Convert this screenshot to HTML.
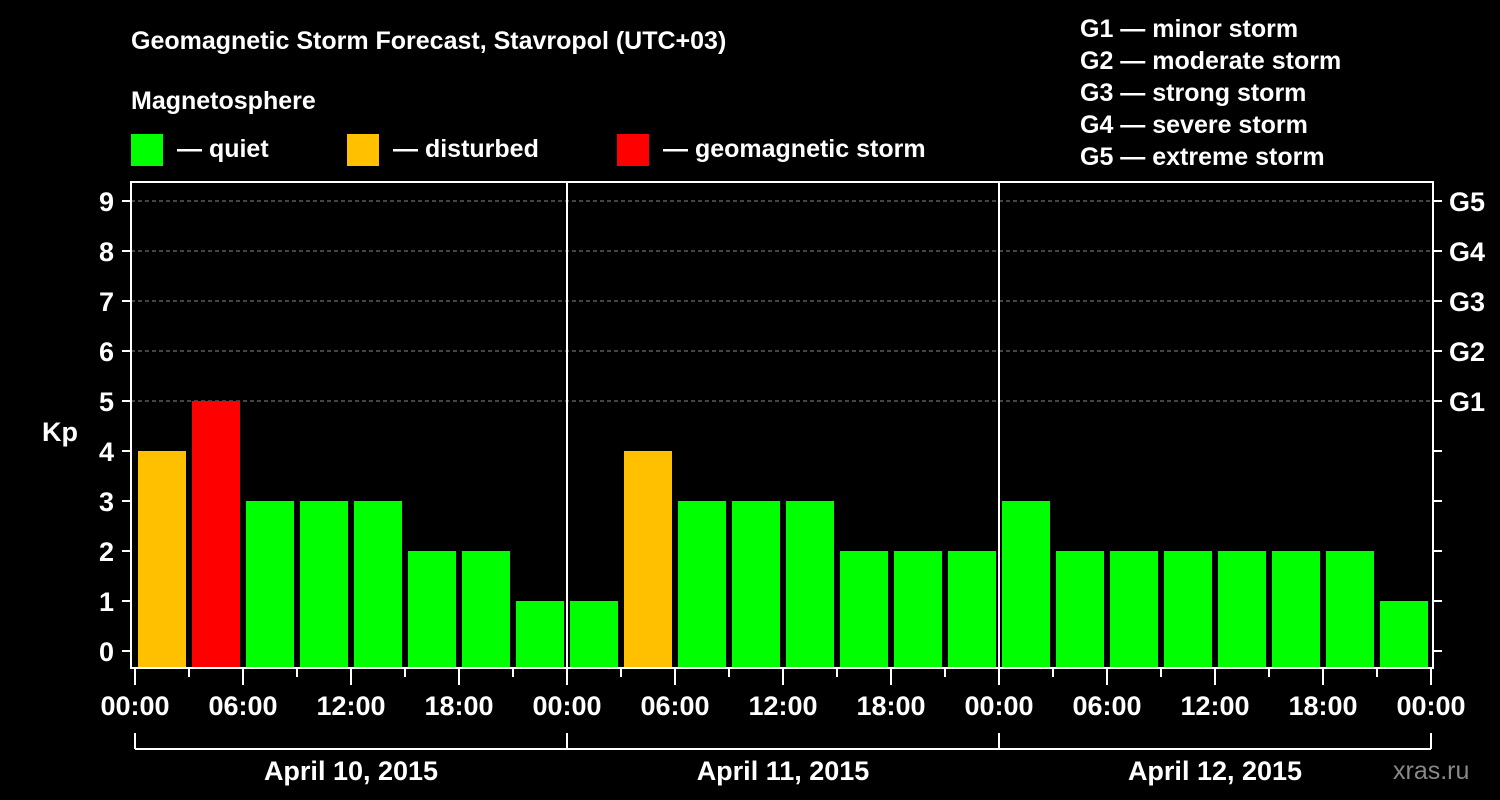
<!DOCTYPE html>
<html><head><meta charset="utf-8"><style>
body{margin:0;background:#000;}
svg{display:block;font-family:"Liberation Sans",Arial,sans-serif;font-weight:bold;}
</style></head><body>
<svg id="chart" width="1500" height="800" viewBox="0 0 1500 800">
<rect width="1500" height="800" fill="#000"/>
<text x="131" y="49" fill="#fff" font-size="25">Geomagnetic Storm Forecast, Stavropol (UTC+03)</text>
<text x="131" y="109" fill="#fff" font-size="25">Magnetosphere</text>
<g><rect x="131" y="134" width="32" height="32" fill="#00ff00"/><text x="177" y="157" fill="#fff" font-size="25">— quiet</text></g>
<g><rect x="347" y="134" width="32" height="32" fill="#ffc000"/><text x="393" y="157" fill="#fff" font-size="25">— disturbed</text></g>
<g><rect x="617" y="134" width="32" height="32" fill="#ff0000"/><text x="663" y="157" fill="#fff" font-size="25">— geomagnetic storm</text></g>
<g fill="#fff" font-size="25">
<text x="1080" y="37">G1 — minor storm</text>
<text x="1080" y="69">G2 — moderate storm</text>
<text x="1080" y="101">G3 — strong storm</text>
<text x="1080" y="133">G4 — severe storm</text>
<text x="1080" y="165">G5 — extreme storm</text>
</g>
<text x="42" y="441" fill="#fff" font-size="27">Kp</text>
<text x="1393" y="779" fill="#888" font-size="25" font-weight="normal">xras.ru</text>
<g id="grid"></g><g id="bars"></g><g id="axes"></g>
</svg>
<script>
const kpValues=[4,5,3,3,3,2,2,1, 1,4,3,3,3,2,2,2, 3,2,2,2,2,2,2,1];
const yTicks=[0,1,2,3,4,5,6,7,8,9];
const gLabels=["G1","G2","G3","G4","G5"];
const gLevels=[5,6,7,8,9];
const hourLabels=["00:00","06:00","12:00","18:00"];
const dayLabels=["April 10, 2015","April 11, 2015","April 12, 2015"];
const NS="http://www.w3.org/2000/svg";
const L=131,R=1433,T=182,B=668,X0=135,PXH=18;
const y=v=>651-v*50;
const x=h=>X0+h*PXH;
function mk(tag,attrs,parent,text){const e=document.createElementNS(NS,tag);for(const k in attrs)e.setAttribute(k,attrs[k]);if(text!==undefined)e.textContent=text;parent.appendChild(e);return e;}
const grid=document.getElementById('grid'),bars=document.getElementById('bars'),axes=document.getElementById('axes');
gLevels.forEach((g,i)=>{
const ln=mk('line',{x1:L,x2:R,y1:y(g),y2:y(g),stroke:'#888','stroke-dasharray':'4,3','stroke-width':1},grid);


const t=mk('text',{x:1449,y:y(g)+10,fill:'#fff','font-size':27},axes,gLabels[i]);


});
function col(v){return v>=5?'#ff0000':(v>=4?'#ffc000':'#00ff00');}
kpValues.forEach((v,i)=>{
const r=mk('rect',{x:x(i*3)+3,y:y(v),width:48,height:B-1-y(v),fill:col(v)},bars);


});
const fr=mk('rect',{x:L,y:T,width:R-L,height:B-T,fill:'none',stroke:'#fff','stroke-width':2},axes);


[1,2].forEach(d=>{const l=mk('line',{x1:x(d*24),x2:x(d*24),y1:T,y2:B,stroke:'#fff','stroke-width':2},axes);

});
yTicks.forEach(v=>{
mk('line',{x1:122,x2:L,y1:y(v),y2:y(v),stroke:'#fff','stroke-width':2},axes);
mk('line',{x1:R,x2:1442,y1:y(v),y2:y(v),stroke:'#fff','stroke-width':2},axes);
const t=mk('text',{x:114,y:y(v)+10,fill:'#fff','font-size':27,'text-anchor':'end'},axes,String(v));


});
for(let h=0;h<=72;h+=3){
const major=h%6===0;
mk('line',{x1:x(h),x2:x(h),y1:B,y2:major?685:677,stroke:'#fff','stroke-width':2},axes);
if(major){const t=mk('text',{x:x(h),y:715,fill:'#fff','font-size':27,'text-anchor':'middle'},axes,hourLabels[(h/6)%4]);

}
}
mk('line',{x1:x(0),x2:x(72),y1:749,y2:749,stroke:'#fff','stroke-width':2},axes);
for(let d=0;d<=3;d++)mk('line',{x1:x(d*24),x2:x(d*24),y1:733,y2:749,stroke:'#fff','stroke-width':2},axes);
dayLabels.forEach((s,d)=>{const t=mk('text',{x:x(d*24+12),y:780,fill:'#fff','font-size':27,'text-anchor':'middle'},axes,s);

});
</script>
</body></html>
